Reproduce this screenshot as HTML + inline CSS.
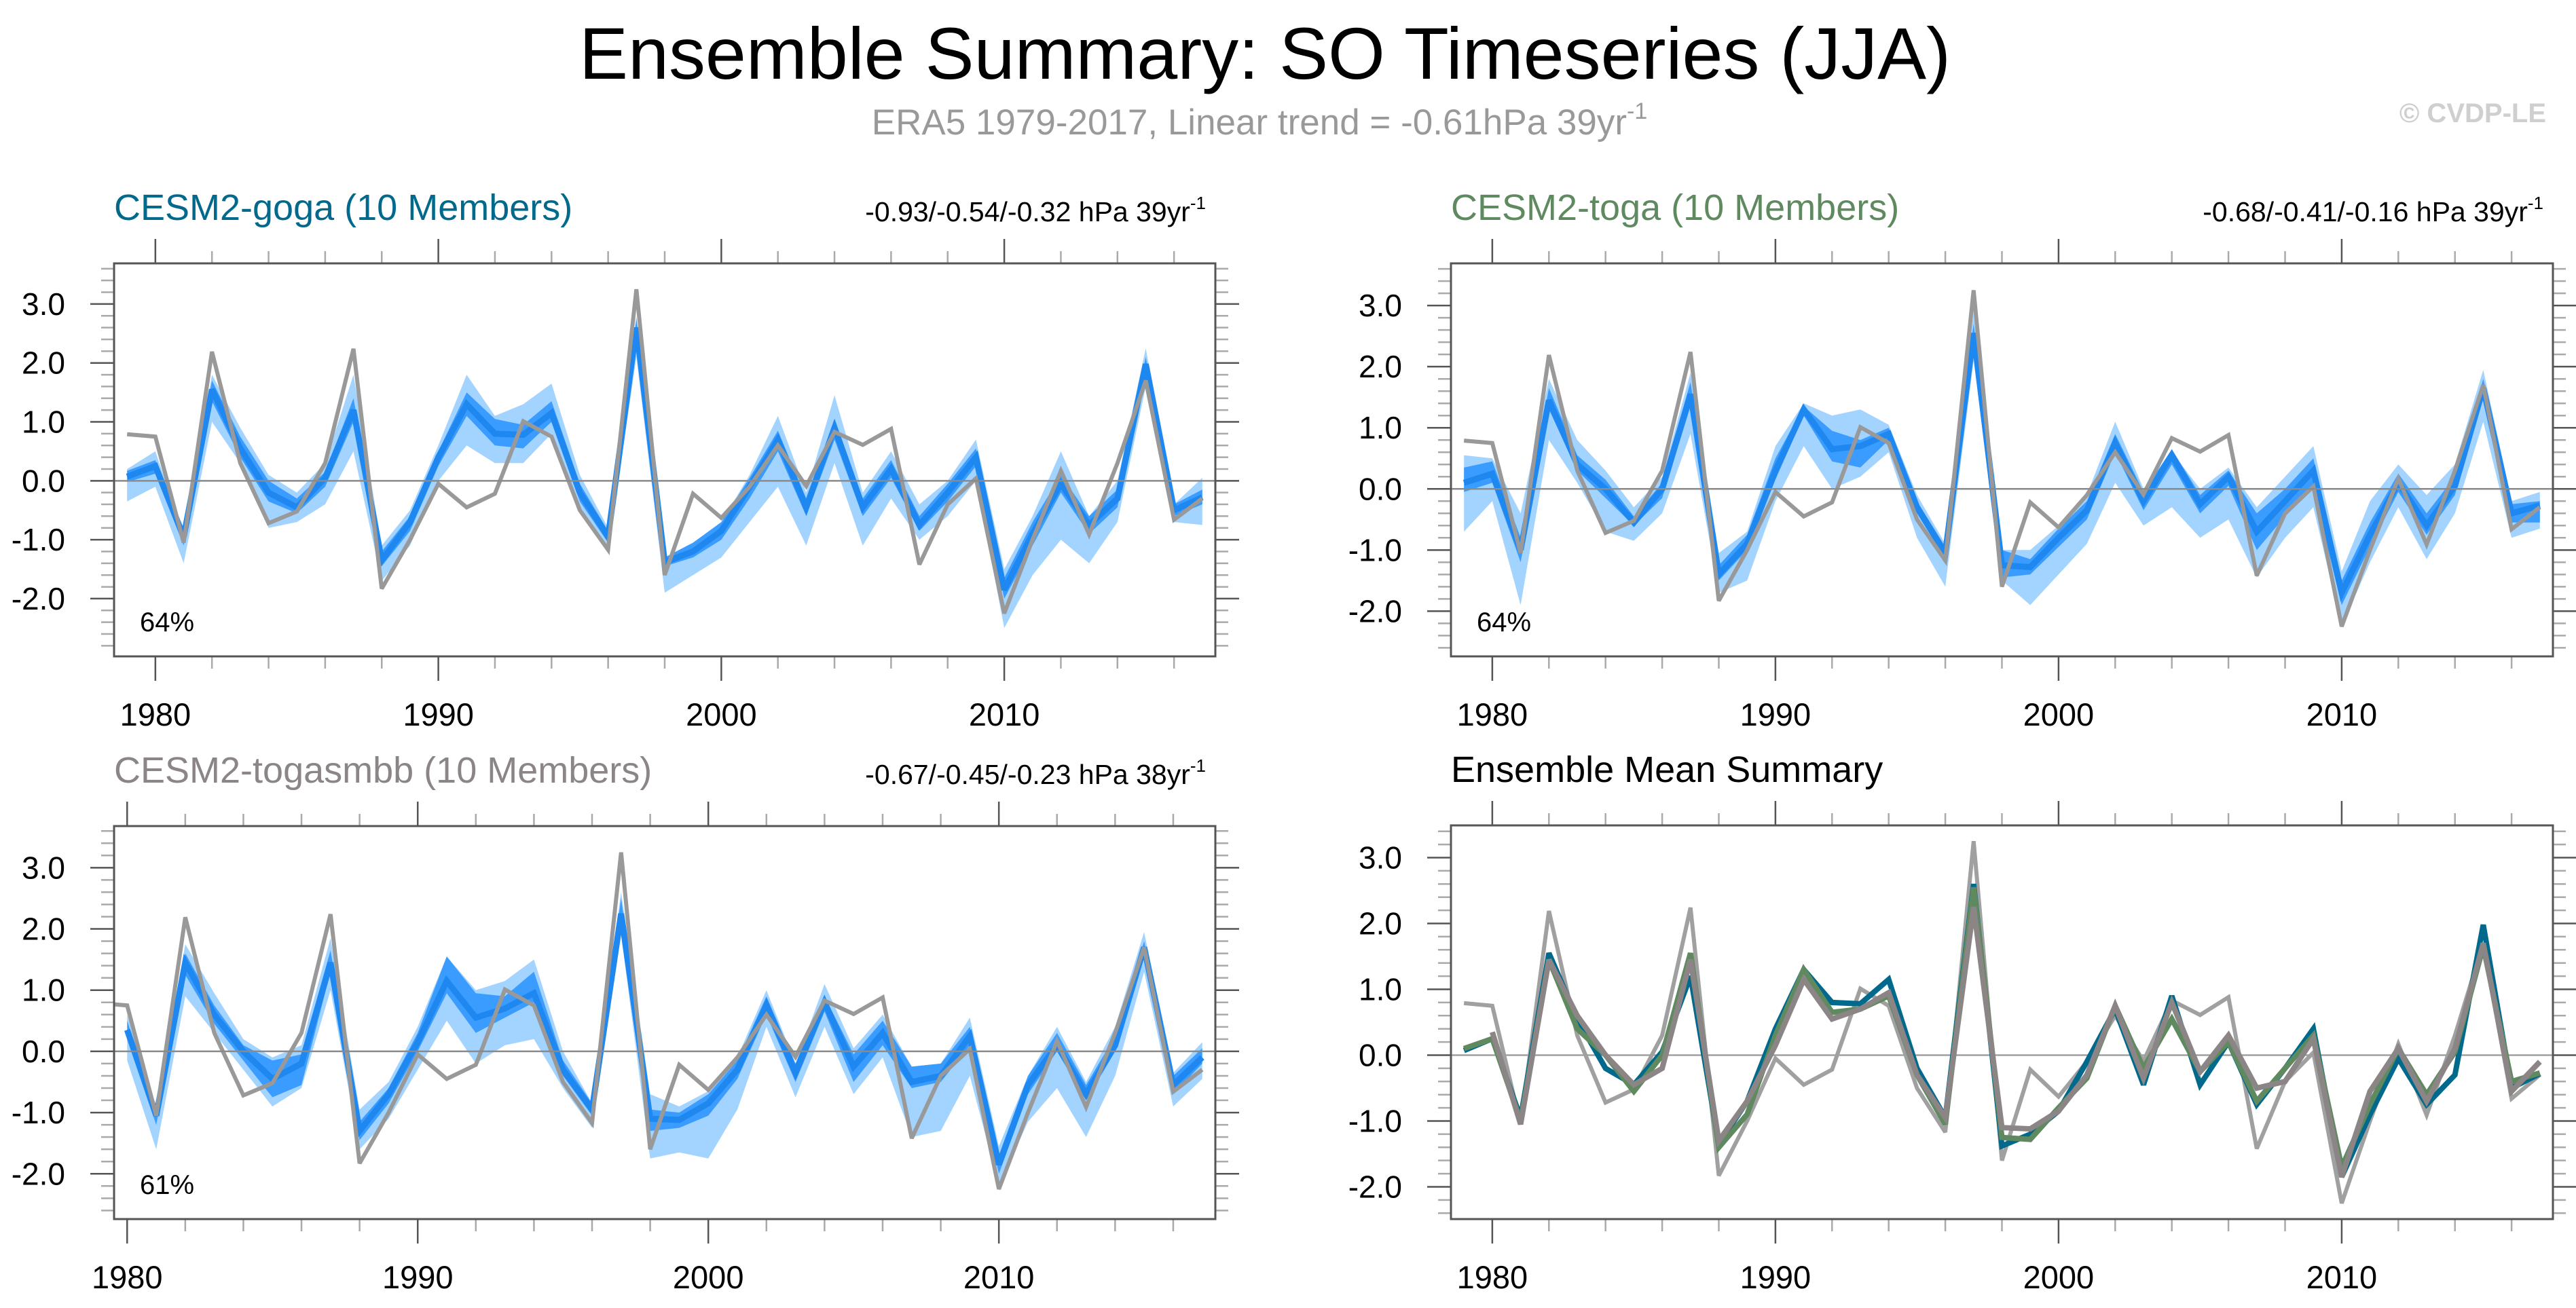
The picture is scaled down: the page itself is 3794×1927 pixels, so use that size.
<!DOCTYPE html>
<html><head><meta charset="utf-8"><title>Ensemble Summary: SO Timeseries (JJA)</title>
<style>
html,body{margin:0;padding:0;background:#fff;}
svg{display:block;font-family:"Liberation Sans",Arial,sans-serif;}
</style></head>
<body>
<svg id="chart" width="3794" height="1927" viewBox="0 0 3794 1927" xmlns="http://www.w3.org/2000/svg">
<rect width="3794" height="1927" fill="#fff"/>
<text x="1863" y="116" font-size="108" text-anchor="middle" textLength="2020" lengthAdjust="spacingAndGlyphs" fill="#000">Ensemble Summary: SO Timeseries (JJA)</text>
<text x="1855" y="198" font-size="53" text-anchor="middle" fill="#999">ERA5 1979-2017, Linear trend = -0.61hPa 39yr<tspan font-size="34" dy="-23">-1</tspan></text>
<text x="3750" y="180" font-size="40" font-weight="bold" text-anchor="end" fill="#cfcfcf">© CVDP-LE</text>
<g id="panels"></g>
</svg>
<script>
// Years 1979..2017
const years = [1979,1980,1981,1982,1983,1984,1985,1986,1987,1988,1989,1990,1991,1992,1993,1994,1995,1996,1997,1998,1999,2000,2001,2002,2003,2004,2005,2006,2007,2008,2009,2010,2011,2012,2013,2014,2015,2016,2017];
const yTicks = [-2,-1,0,1,2,3];
const yTickLabels = ["-2.0","-1.0","0.0","1.0","2.0","3.0"];
const xTicks = [1980,1990,2000,2010];
const xTickLabels = ["1980","1990","2000","2010"];

const obs = [0.79,0.75,-1.05,2.19,0.3,-0.72,-0.52,0.3,2.24,-1.83,-1.0,-0.05,-0.45,-0.22,1.01,0.75,-0.5,-1.17,3.25,-1.6,-0.22,-0.63,-0.1,0.6,-0.09,0.83,0.61,0.88,-1.42,-0.4,0.04,-2.25,-1.0,0.17,-0.91,0.3,1.7,-0.66,-0.3];

const gogaMean = [0.07,0.25,-0.95,1.55,0.55,-0.2,-0.45,0.05,1.2,-1.35,-0.7,0.4,1.3,0.8,0.78,1.15,-0.2,-0.95,2.6,-1.38,-1.2,-0.85,-0.1,0.7,-0.45,0.9,-0.45,0.2,-0.75,-0.2,0.4,-1.85,-0.9,-0.05,-0.75,-0.3,1.98,-0.5,-0.28];
const gogaInLo = [-0.02,0.12,-1.1,1.35,0.4,-0.35,-0.55,-0.1,1.0,-1.45,-0.85,0.25,1.1,0.6,0.55,1.0,-0.35,-1.05,2.45,-1.45,-1.3,-1.0,-0.3,0.5,-0.6,0.7,-0.6,0.05,-0.85,-0.35,0.25,-2.0,-1.1,-0.2,-0.9,-0.45,1.85,-0.6,-0.4];
const gogaInHi = [0.17,0.35,-0.85,1.7,0.75,0.0,-0.3,0.15,1.4,-1.2,-0.6,0.5,1.5,1.05,0.95,1.35,-0.05,-0.85,2.75,-1.3,-1.05,-0.7,0.05,0.85,-0.3,1.05,-0.3,0.35,-0.6,-0.05,0.55,-1.65,-0.7,0.1,-0.6,-0.15,2.1,-0.4,-0.15];
const gogaOutLo = [-0.35,-0.1,-1.4,1.0,0.3,-0.8,-0.7,-0.4,0.5,-1.7,-1.1,0.0,0.6,0.3,0.3,0.8,-0.5,-1.2,2.1,-1.9,-1.6,-1.3,-0.7,-0.1,-1.1,0.3,-1.1,-0.3,-1.0,-0.6,0.0,-2.5,-1.6,-1.0,-1.4,-0.7,1.6,-0.7,-0.75];
const gogaOutHi = [0.2,0.5,-0.9,1.8,0.9,0.1,-0.2,0.3,1.8,-1.1,-0.5,0.6,1.8,1.1,1.3,1.65,0.1,-0.8,2.8,-1.3,-1.1,-0.7,0.1,1.1,-0.2,1.45,-0.2,0.5,-0.4,0.0,0.7,-1.5,-0.6,0.5,-0.6,0.0,2.25,-0.4,0.05];

const togaMean = [0.1,0.25,-1.0,1.45,0.4,0.0,-0.55,0.0,1.55,-1.4,-0.9,0.3,1.3,0.65,0.7,0.9,-0.3,-1.05,2.55,-1.25,-1.28,-0.8,-0.35,0.75,-0.2,0.55,-0.25,0.2,-0.7,-0.2,0.3,-1.7,-0.75,0.1,-0.6,0.05,1.65,-0.4,-0.27];
const togaInLo = [-0.05,0.1,-1.2,1.3,0.3,-0.15,-0.6,-0.15,1.35,-1.5,-1.0,0.15,1.2,0.45,0.35,0.8,-0.4,-1.15,2.4,-1.45,-1.4,-0.95,-0.5,0.6,-0.35,0.4,-0.4,0.05,-1.0,-0.45,0.0,-1.9,-0.95,-0.05,-0.75,-0.1,1.5,-0.55,-0.55];
const togaInHi = [0.35,0.45,-0.8,1.65,0.55,0.15,-0.45,0.1,1.75,-1.25,-0.75,0.5,1.35,0.95,0.8,1.0,-0.2,-0.95,2.7,-1.0,-1.15,-0.65,-0.2,0.9,-0.05,0.65,-0.1,0.3,-0.4,0.0,0.5,-1.5,-0.55,0.25,-0.4,0.2,1.8,-0.25,-0.2];
const togaOutLo = [-0.7,-0.2,-1.9,0.8,0.1,-0.7,-0.85,-0.4,0.9,-1.7,-1.5,-0.2,0.7,0.0,0.2,0.6,-0.8,-1.6,2.1,-1.5,-1.9,-1.4,-0.9,0.1,-0.6,-0.3,-0.8,-0.5,-1.45,-0.8,-0.3,-2.25,-1.2,-0.3,-1.15,-0.4,1.1,-0.8,-0.65];
const togaOutHi = [0.55,0.5,-0.4,1.8,0.8,0.3,-0.3,0.2,1.9,-1.05,-0.7,0.7,1.4,1.2,1.3,1.05,-0.1,-0.9,2.9,-1.0,-1.0,-0.6,-0.1,1.1,0.0,0.6,0.0,0.35,-0.3,0.2,0.7,-1.35,-0.2,0.4,-0.1,0.4,1.95,-0.2,-0.05];

const smbbMean = [null,0.35,-1.05,1.45,0.6,0.0,-0.45,-0.2,1.45,-1.3,-0.7,0.15,1.15,0.55,0.7,0.95,-0.3,-0.95,2.25,-1.1,-1.12,-0.85,-0.3,0.75,-0.35,0.8,-0.25,0.3,-0.5,-0.4,0.25,-1.85,-0.55,0.1,-0.7,0.1,1.7,-0.55,-0.1];
const smbbInLo = [null,0.2,-1.2,1.25,0.45,-0.15,-0.75,-0.55,1.3,-1.45,-0.85,0.0,0.95,0.3,0.55,0.8,-0.4,-1.05,2.1,-1.3,-1.25,-1.05,-0.45,0.6,-0.5,0.65,-0.5,0.1,-0.6,-0.5,0.1,-2.0,-0.7,0.0,-0.8,0.0,1.55,-0.7,-0.2];
const smbbInHi = [null,0.5,-0.95,1.6,0.75,0.1,-0.15,-0.05,1.65,-1.15,-0.6,0.3,1.55,0.95,0.9,1.3,-0.15,-0.85,2.5,-0.95,-1.0,-0.7,-0.15,0.9,-0.2,0.9,-0.05,0.5,-0.25,-0.2,0.4,-1.7,-0.4,0.3,-0.55,0.25,1.8,-0.4,0.05];
const smbbOutLo = [null,-0.15,-1.6,0.9,0.3,-0.3,-0.9,-0.6,1.0,-1.6,-1.1,-0.3,0.5,-0.2,0.1,0.2,-0.6,-1.25,1.9,-1.75,-1.65,-1.75,-0.95,0.4,-0.75,0.4,-0.7,-0.1,-1.4,-1.3,-0.4,-2.2,-1.15,-0.6,-1.4,-0.4,1.3,-0.9,-0.45];
const smbbOutHi = [null,0.6,-0.9,1.75,0.95,0.2,-0.1,0.1,1.85,-0.95,-0.5,0.4,1.55,1.0,1.15,1.5,0.0,-0.85,2.6,-0.7,-0.9,-0.65,-0.1,1.0,-0.2,1.1,0.05,0.6,-0.25,-0.2,0.55,-1.55,-0.4,0.4,-0.5,0.4,1.95,-0.35,0.15];

const NS = "http://www.w3.org/2000/svg";
const root = document.getElementById("panels");
function mk(tag, attrs, parent){
  const e = document.createElementNS(NS, tag);
  for (const k in attrs) e.setAttribute(k, attrs[k]);
  (parent||root).appendChild(e);
  return e;
}

const panels = [
  {id:"goga", title:"CESM2-goga (10 Members)", color:"#00698c", trend:"-0.93/-0.54/-0.32 hPa 39yr", pct:"64%",
   bx0:168,bx1:1790,by0:388,by1:967,xmin:1978.54,xmax:2017.46,ymin:-2.98,ymax:3.69,
   mean:gogaMean,inLo:gogaInLo,inHi:gogaInHi,outLo:gogaOutLo,outHi:gogaOutHi},
  {id:"toga", title:"CESM2-toga (10 Members)", color:"#5f8a60", trend:"-0.68/-0.41/-0.16 hPa 39yr", pct:"64%",
   bx0:2137,bx1:3760,by0:388,by1:967,xmin:1978.54,xmax:2017.46,ymin:-2.74,ymax:3.69,
   mean:togaMean,inLo:togaInLo,inHi:togaInHi,outLo:togaOutLo,outHi:togaOutHi},
  {id:"togasmbb", title:"CESM2-togasmbb (10 Members)", color:"#8c8585", trend:"-0.67/-0.45/-0.23 hPa 38yr", pct:"61%",
   bx0:168,bx1:1790,by0:1217,by1:1796,xmin:1979.55,xmax:2017.45,ymin:-2.74,ymax:3.68,
   mean:smbbMean,inLo:smbbInLo,inHi:smbbInHi,outLo:smbbOutLo,outHi:smbbOutHi},
  {id:"ensmean", title:"Ensemble Mean Summary", color:"#000", trend:null, pct:null,
   bx0:2137,bx1:3760,by0:1216,by1:1796,xmin:1978.54,xmax:2017.46,ymin:-2.49,ymax:3.49}
];

function drawPanel(p){
  const g = mk("g", {});
  
  
  const xs = v => p.bx0 + (v - p.xmin) / (p.xmax - p.xmin) * (p.bx1 - p.bx0);
  const ys = v => p.by1 - (v - p.ymin) / (p.ymax - p.ymin) * (p.by1 - p.by0);
  const clipId = "clip-" + p.id;
  const cp = mk("clipPath", {id: clipId}, g);
  mk("rect", {x:p.bx0, y:p.by0, width:p.bx1-p.bx0, height:p.by1-p.by0}, cp);

  const t = mk("text", {x:p.bx0, y:p.by0-64, "font-size":54, fill:p.color}, g);
  
  
  t.textContent = p.title;
  if (p.trend){
    const tr = mk("text", {x:p.bx1-14, y:p.by0-62, "font-size":41, fill:"#000", "text-anchor":"end"}, g);
    
    
    tr.textContent = p.trend;
    const sp = mk("tspan", {"font-size":26, dy:-18}, tr);
    sp.textContent = "-1";
  }

  const tk = mk("g", {}, g);
  
  
  for (let v = Math.ceil(p.ymin*5)/5; v <= p.ymax + 1e-9; v += 0.2){
    const vv = Math.round(v*5)/5;
    const major = Math.abs(vv - Math.round(vv)) < 1e-6;
    const len = major ? 35 : 19;
    const col = major ? "#555" : "#aaa";
    const y = ys(vv);
    mk("line", {x1:p.bx0-len, x2:p.bx0, y1:y, y2:y, stroke:col, "stroke-width":2.5}, tk);
    mk("line", {x1:p.bx1, x2:p.bx1+len, y1:y, y2:y, stroke:col, "stroke-width":2.5}, tk);
  }
  for (let yr = Math.ceil(p.xmin/2)*2; yr <= p.xmax; yr += 2){
    const major = yr % 10 === 0;
    const len = major ? 36 : 18;
    const col = major ? "#555" : "#aaa";
    const x = xs(yr);
    mk("line", {x1:x, x2:x, y1:p.by1, y2:p.by1+len, stroke:col, "stroke-width":2.5}, tk);
    mk("line", {x1:x, x2:x, y1:p.by0-len, y2:p.by0, stroke:col, "stroke-width":2.5}, tk);
  }
  yTicks.forEach((v,i) => {
    const l = mk("text", {x:p.bx0-72, y:ys(v)+16, "font-size":46, "text-anchor":"end", fill:"#000"}, g);
    
    
    l.textContent = yTickLabels[i];
  });
  xTicks.forEach((v,i) => {
    const l = mk("text", {x:xs(v), y:p.by1+102, "font-size":47, "text-anchor":"middle", fill:"#000"}, g);
    
    
    l.textContent = xTickLabels[i];
  });

  const plot = mk("g", {"clip-path":"url(#"+clipId+")"}, g);
  
  

  function band(lo, hi, fill, name){
    const top = [], bot = [];
    years.forEach((yr,i) => { if (lo[i] !== null && hi[i] !== null){ top.push([xs(yr), ys(hi[i])]); bot.push([xs(yr), ys(lo[i])]); } });
    const pts = top.concat(bot.reverse()).map(q => q[0].toFixed(1)+","+q[1].toFixed(1)).join(" ");
    const b = mk("polygon", {points:pts, fill:fill}, plot);
    
    
  }
  function line(vals, color, w, name){
    const pts = [];
    years.forEach((yr,i) => { if (vals[i] !== null) pts.push(xs(yr).toFixed(1)+","+ys(vals[i]).toFixed(1)); });
    const l = mk("polyline", {points:pts.join(" "), fill:"none", stroke:color, "stroke-width":w, "stroke-linejoin":"miter", "stroke-miterlimit":3}, plot);
    
    
  }

  if (p.mean){
    band(p.outLo, p.outHi, "#a3d3ff", "ensemble-range-band");
    band(p.inLo, p.inHi, "#3a9cff", "ensemble-iqr-band");
    line(p.mean, "#1e88f0", 9, "ensemble-mean-line");
    line(obs, "#999999", 6, "observed-line");
    const z = mk("line", {x1:p.bx0, x2:p.bx1, y1:ys(0), y2:ys(0), stroke:"#8a8a8a", "stroke-width":2.5}, g);
    
    
    const pc = mk("text", {x:p.bx0+38, y:p.by1-37, "font-size":40, fill:"#000"}, g);
    
    
    pc.textContent = p.pct;
  } else {
    const z = mk("line", {x1:p.bx0, x2:p.bx1, y1:ys(0), y2:ys(0), stroke:"#a0a0a0", "stroke-width":2.5}, plot);
    
    
    line(obs, "#a0a0a0", 6, "observed-line");
    line(gogaMean, "#00698c", 8, "goga-mean-line");
    line(togaMean, "#5f8a60", 8, "toga-mean-line");
    line(smbbMean, "#8c8585", 8, "togasmbb-mean-line");
  }
  const fr = mk("rect", {x:p.bx0, y:p.by0, width:p.bx1-p.bx0, height:p.by1-p.by0, fill:"none", stroke:"#555", "stroke-width":3}, g);
  
  
}
panels.forEach(drawPanel);
</script>
</body></html>
